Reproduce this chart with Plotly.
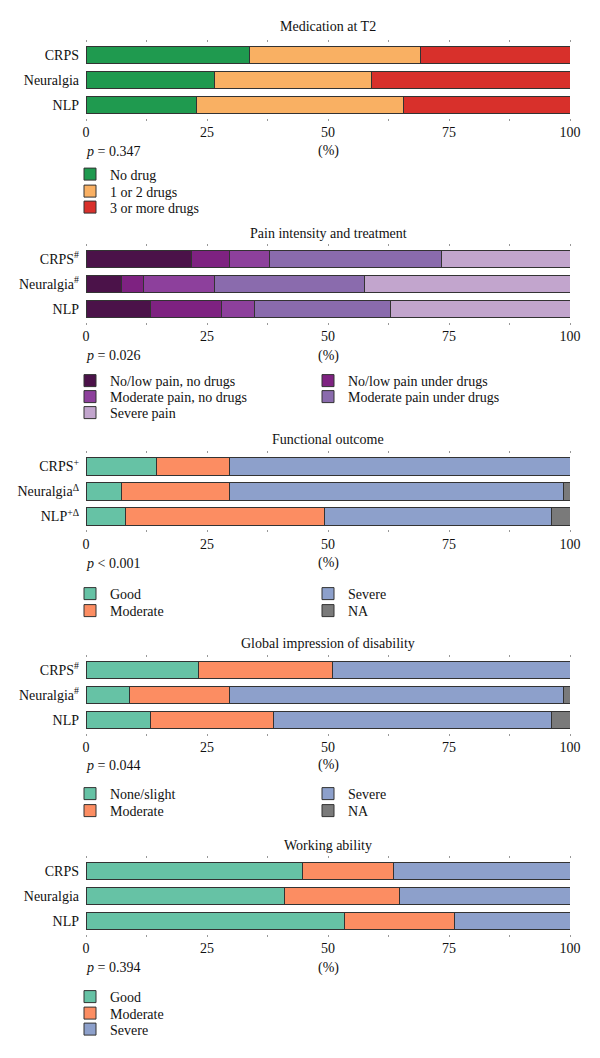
import plotly.graph_objects as go

W, H = 600, 1058
FONT = "Liberation Serif"

# ---------------- data ----------------
groups = ["CRPS", "Neuralgia", "NLP"]

med_title = "Medication at T2"
med_ylabels = ["CRPS", "Neuralgia", "NLP"]
med_cats = ["No drug", "1 or 2 drugs", "3 or more drugs"]
med_no_drug = [33.8, 26.6, 22.8]
med_1_2 = [35.3, 32.4, 42.7]
med_3plus = [30.9, 41.0, 34.5]
med_p = "<i>p</i> = 0.347"

pain_title = "Pain intensity and treatment"
pain_ylabels = ["CRPS<sup>#</sup>", "Neuralgia<sup>#</sup>", "NLP"]
pain_cats = ["No/low pain, no drugs", "No/low pain under drugs",
             "Moderate pain, no drugs", "Moderate pain under drugs", "Severe pain"]
pain_low_nodrug = [21.7, 7.3, 13.4]
pain_low_drug = [7.9, 4.6, 14.5]
pain_mod_nodrug = [8.4, 14.7, 6.9]
pain_mod_drug = [35.4, 30.9, 28.1]
pain_severe = [26.6, 42.5, 37.1]
pain_p = "<i>p</i> = 0.026"

func_title = "Functional outcome"
func_ylabels = ["CRPS<sup>+</sup>", "Neuralgia<sup>Δ</sup>", "NLP<sup>+Δ</sup>"]
func_cats = ["Good", "Moderate", "Severe", "NA"]
func_good = [14.6, 7.3, 8.1]
func_mod = [15.0, 22.3, 41.2]
func_sev = [70.4, 69.0, 46.8]
func_na = [0.0, 1.4, 3.9]
func_p = "<i>p</i> < 0.001"

glob_title = "Global impression of disability"
glob_ylabels = ["CRPS<sup>#</sup>", "Neuralgia<sup>#</sup>", "NLP"]
glob_cats = ["None/slight", "Moderate", "Severe", "NA"]
glob_none = [23.2, 9.0, 13.3]
glob_mod = [27.7, 20.6, 25.4]
glob_sev = [49.1, 69.0, 57.4]
glob_na = [0.0, 1.4, 3.9]
glob_p = "<i>p</i> = 0.044"

work_title = "Working ability"
work_ylabels = ["CRPS", "Neuralgia", "NLP"]
work_cats = ["Good", "Moderate", "Severe"]
work_good = [44.7, 41.1, 53.4]
work_mod = [18.9, 23.6, 22.7]
work_sev = [36.4, 35.3, 23.9]
work_p = "<i>p</i> = 0.394"

x_tickvals = [0, 12.5, 25, 37.5, 50, 62.5, 75, 87.5, 100]
x_ticktext = ["0", "", "25", "", "50", "", "75", "", "100"]
pct_label = "(%)"

# ---------------- styles / layout positions (pixels) ----------------
med_colors = ["#1f9a4f", "#f9b063", "#d8302b"]
pain_colors = ["#4b1249", "#7e2281", "#8d409c", "#8a6bad", "#c2a5cd"]
set_colors = ["#66c2a5", "#fc8d62", "#8da0cb", "#7a7a7a"]
EDGE = "#333333"

COL1_X, COL2_X = 70, 308
panels = [
    dict(title=med_title, ylabels=med_ylabels, cats=med_cats,
         vals=[med_no_drug, med_1_2, med_3plus], colors=med_colors, p=med_p,
         top=42.5, title_y=26.5, p_y=151.5,
         leg=[(COL1_X, 174.5), (COL1_X, 191.5), (COL1_X, 207.5)]),
    dict(title=pain_title, ylabels=pain_ylabels, cats=pain_cats,
         vals=[pain_low_nodrug, pain_low_drug, pain_mod_nodrug, pain_mod_drug, pain_severe],
         colors=pain_colors, p=pain_p, top=246.5, title_y=233, p_y=355.5,
         leg=[(COL1_X, 381), (COL2_X, 381), (COL1_X, 397), (COL2_X, 397), (COL1_X, 413)]),
    dict(title=func_title, ylabels=func_ylabels, cats=func_cats,
         vals=[func_good, func_mod, func_sev, func_na], colors=set_colors, p=func_p,
         top=454, title_y=439.5, p_y=563,
         leg=[(COL1_X, 594), (COL1_X, 611), (COL2_X, 594), (COL2_X, 611)]),
    dict(title=glob_title, ylabels=glob_ylabels, cats=glob_cats,
         vals=[glob_none, glob_mod, glob_sev, glob_na], colors=set_colors, p=glob_p,
         top=657.5, title_y=643.5, p_y=765,
         leg=[(COL1_X, 794), (COL1_X, 811), (COL2_X, 794), (COL2_X, 811)]),
    dict(title=work_title, ylabels=work_ylabels, cats=work_cats,
         vals=[work_good, work_mod, work_sev], colors=set_colors, p=work_p,
         top=858.5, title_y=845, p_y=967.5,
         leg=[(COL1_X, 997), (COL1_X, 1013.5), (COL1_X, 1029.5)]),
]

X0, X1 = 86, 570
PLOT_H = 75


def py(px):
    return 1 - px / H


fig = go.Figure()
layout = dict(width=W, height=H, margin=dict(l=0, r=0, t=0, b=0),
              plot_bgcolor="white", paper_bgcolor="white", barmode="stack",
              bargap=0.31, font=dict(family=FONT, size=14, color="#111"))
annotations = []
leg_idx = 0
for i, pnl in enumerate(panels):
    n = i + 1
    xa = "x" if n == 1 else f"x{n}"
    ya = "y" if n == 1 else f"y{n}"
    for k, (cat, v, col) in enumerate(zip(pnl["cats"], pnl["vals"], pnl["colors"])):
        leg_idx += 1
        lname = "legend" if leg_idx == 1 else f"legend{leg_idx}"
        lx, ly = pnl["leg"][k]
        layout[lname] = dict(x=lx / W, xanchor="left", y=py(ly), yanchor="middle",
                             bgcolor="rgba(0,0,0,0)", borderwidth=0,
                             font=dict(family=FONT, size=14, color="#111"),
                             itemclick=False, itemdoubleclick=False)
        fig.add_trace(go.Bar(x=v, y=groups, orientation="h", name=cat,
                             marker=dict(color=col, line=dict(color=EDGE, width=1)),
                             xaxis=xa, yaxis=ya, legend=lname, showlegend=True,
                             hoverinfo="skip"))
    top = pnl["top"]
    bot = top + PLOT_H
    axkey_x = "xaxis" if n == 1 else f"xaxis{n}"
    axkey_y = "yaxis" if n == 1 else f"yaxis{n}"
    layout[axkey_x] = dict(domain=[X0 / W, X1 / W], anchor=ya, range=[0, 100],
                           tickvals=x_tickvals, ticktext=x_ticktext, ticks="outside",
                           ticklen=2, tickwidth=1, tickcolor="#999", mirror="ticks",
                           showline=False, showgrid=False, zeroline=False,
                           automargin=False, tickfont=dict(family=FONT, size=14),
                           fixedrange=True)
    layout[axkey_y] = dict(domain=[py(bot), py(top)], anchor=xa, type="category",
                           categoryorder="array", categoryarray=groups,
                           autorange="reversed", tickvals=groups, ticktext=pnl["ylabels"],
                           showline=False, showgrid=False, zeroline=False, ticks="",
                           automargin=False, ticklabelstandoff=6,
                           tickfont=dict(family=FONT, size=14), fixedrange=True)
    annotations.append(dict(text=pnl["title"], x=(X0 + X1) / 2 / W, y=py(pnl["title_y"]),
                            xref="paper", yref="paper", showarrow=False,
                            xanchor="center", yanchor="middle",
                            font=dict(family=FONT, size=14)))
    annotations.append(dict(text=pnl["p"], x=(X0 - 2) / W, y=py(pnl["p_y"]), xref="paper",
                            yref="paper", showarrow=False, xanchor="left",
                            yanchor="middle", font=dict(family=FONT, size=14)))
    annotations.append(dict(text=pct_label, x=(X0 + X1) / 2 / W, y=py(pnl["p_y"]),
                            xref="paper", yref="paper", showarrow=False,
                            xanchor="center", yanchor="middle",
                            font=dict(family=FONT, size=14)))

layout["annotations"] = annotations
fig.update_layout(**layout)
fig.write_html("out.html")
